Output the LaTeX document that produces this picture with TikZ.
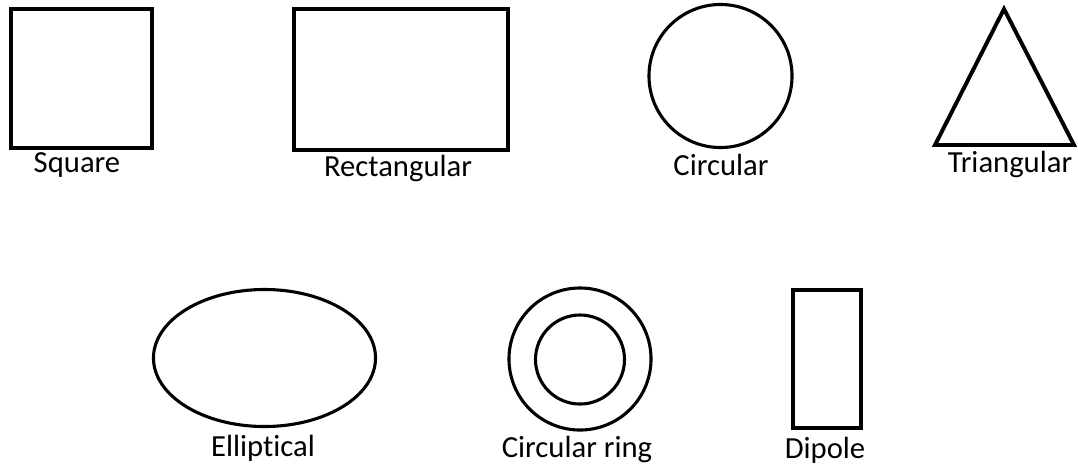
\documentclass[tikz,border=0pt]{standalone}
\usepackage{fontspec}
\setmainfont{Carlito}[Ligatures=NoCommon]
\usetikzlibrary{shapes.geometric}

\begin{document}
\begin{tikzpicture}[
  x=0.025cm, y=-0.025cm,
  outline/.style={draw,line width=2.8pt,inner sep=0pt},
  curve/.style={draw,line width=2.2pt,inner sep=0pt},
  lbl/.style={anchor=base,inner sep=0pt,font=\fontsize{21.8}{26}\selectfont}
]
  \useasboundingbox (0,0) rectangle (1078,470);
  % Top row
  \node[outline,minimum width=3.525cm,minimum height=3.475cm] (square) at (81.5,78.5) {};
  \node[lbl] (squarelbl) at (77,172) {Square};
  \node[outline,minimum width=5.35cm,minimum height=3.525cm] (rect) at (401,79.5) {};
  \node[lbl] (rectlbl) at (398,176) {Rectangular};
  \node[curve,circle,minimum size=3.575cm] (circ) at (720.5,76) {};
  \node[lbl] (circlbl) at (721,175) {Circular};
  \coordinate (apex) at (1004,9);
  \coordinate (baseL) at (935,145);
  \coordinate (baseR) at (1074,145);
  \draw[line width=2.8pt] (apex) -- (baseR) -- (baseL) -- cycle;
  \node[lbl] (trilbl) at (1010,172) {Triangular};
  % Bottom row
  \node[curve,ellipse,minimum width=5.55cm,minimum height=3.425cm] (ell) at (264.5,358) {};
  \node[lbl] (elllbl) at (263,456) {Elliptical};
  \node[curve,circle,minimum size=3.55cm] (ringout) at (580,359) {};
  \node[curve,circle,minimum size=2.225cm] (ringin) at (580,359.5) {};
  \node[lbl] (ringlbl) at (577,457) {Circular ring};
  \node[outline,minimum width=1.7cm,minimum height=3.45cm] (dipole) at (827,359) {};
  \node[lbl] (dipolelbl) at (825,458) {Dipole};
\end{tikzpicture}
\end{document}
